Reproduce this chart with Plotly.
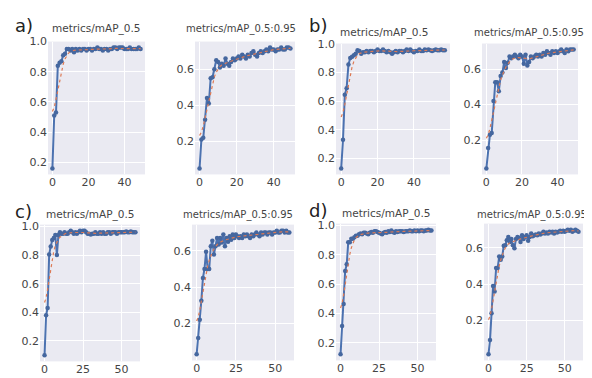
import numpy as np
import plotly.graph_objects as go

# ---------------- data ----------------
a_map50 = [0.16, 0.51, 0.53, 0.84, 0.86, 0.87, 0.91, 0.92, 0.95, 0.95,
           0.94, 0.95, 0.93, 0.95, 0.94, 0.95, 0.94, 0.95, 0.95, 0.94,
           0.95, 0.95, 0.94, 0.95, 0.95, 0.96, 0.95, 0.95, 0.94, 0.95,
           0.95, 0.94, 0.95, 0.95, 0.96, 0.96, 0.95, 0.96, 0.96, 0.96,
           0.95, 0.95, 0.95, 0.96, 0.95, 0.95, 0.95, 0.95, 0.96, 0.95]
a_map = [0.05, 0.21, 0.22, 0.32, 0.44, 0.41, 0.55, 0.555, 0.60, 0.65,
         0.64, 0.61, 0.63, 0.62, 0.66, 0.63, 0.62, 0.64, 0.66, 0.65,
         0.66, 0.67, 0.66, 0.68, 0.67, 0.66, 0.68, 0.67, 0.69, 0.70,
         0.68, 0.67, 0.69, 0.70, 0.69, 0.70, 0.71, 0.70, 0.72, 0.71,
         0.71, 0.70, 0.71, 0.71, 0.72, 0.71, 0.71, 0.72, 0.72, 0.715]
b_map50 = [0.13, 0.33, 0.645, 0.69, 0.855, 0.90, 0.91, 0.92, 0.93, 0.955,
           0.95, 0.93, 0.94, 0.94, 0.95, 0.94, 0.95, 0.95, 0.94, 0.95,
           0.96, 0.95, 0.95, 0.96, 0.95, 0.94, 0.95, 0.94, 0.93, 0.94,
           0.95, 0.94, 0.95, 0.95, 0.94, 0.95, 0.96, 0.95, 0.96, 0.95,
           0.94, 0.95, 0.95, 0.96, 0.95, 0.95, 0.96, 0.955, 0.96, 0.955,
           0.95, 0.955, 0.96, 0.955, 0.955, 0.96, 0.955, 0.955]
b_map = [0.04, 0.155, 0.23, 0.24, 0.42, 0.525, 0.525, 0.475, 0.56, 0.58,
         0.64, 0.605, 0.635, 0.67, 0.66, 0.67, 0.68, 0.67, 0.66, 0.68,
         0.67, 0.63, 0.68, 0.62, 0.64, 0.67, 0.66, 0.67, 0.68, 0.67,
         0.68, 0.67, 0.69, 0.68, 0.70, 0.69, 0.68, 0.70, 0.69, 0.70,
         0.69, 0.70, 0.71, 0.70, 0.69, 0.71, 0.70, 0.71, 0.71, 0.71]
c_map50 = [0.10, 0.38, 0.43, 0.805, 0.86, 0.905, 0.92, 0.94, 0.80, 0.94,
           0.96, 0.95, 0.95, 0.96, 0.95, 0.95, 0.96, 0.97, 0.96, 0.95,
           0.96, 0.95, 0.96, 0.97, 0.96, 0.97, 0.97, 0.96, 0.95, 0.95,
           0.945, 0.95, 0.95, 0.96, 0.95, 0.95, 0.96, 0.95, 0.96, 0.95,
           0.95, 0.96, 0.96, 0.95, 0.96, 0.96, 0.96, 0.95, 0.96, 0.96,
           0.96, 0.96, 0.96, 0.965, 0.96, 0.96, 0.965, 0.96, 0.96, 0.96]
c_map = [0.03, 0.12, 0.22, 0.325, 0.45, 0.50, 0.595, 0.50, 0.50, 0.625,
         0.655, 0.58, 0.625, 0.67, 0.635, 0.67, 0.645, 0.69, 0.625, 0.67,
         0.65, 0.68, 0.66, 0.69, 0.67, 0.69, 0.68, 0.67, 0.68, 0.67,
         0.69, 0.68, 0.69, 0.68, 0.67, 0.69, 0.68, 0.69, 0.70, 0.69,
         0.68, 0.70, 0.69, 0.70, 0.70, 0.69, 0.70, 0.70, 0.69, 0.70,
         0.70, 0.71, 0.70, 0.70, 0.71, 0.71, 0.70, 0.71, 0.70, 0.70]
d_map50 = [0.123, 0.315, 0.465, 0.69, 0.735, 0.885, 0.885, 0.91, 0.91, 0.92,
           0.93, 0.93, 0.94, 0.945, 0.94, 0.95, 0.95, 0.945, 0.94, 0.95,
           0.955, 0.95, 0.96, 0.96, 0.955, 0.95, 0.945, 0.94, 0.95, 0.955,
           0.95, 0.96, 0.955, 0.965, 0.955, 0.95, 0.96, 0.955, 0.96, 0.96,
           0.96, 0.955, 0.96, 0.96, 0.96, 0.965, 0.96, 0.96, 0.965, 0.96,
           0.965, 0.96, 0.965, 0.965, 0.96, 0.965, 0.965, 0.97, 0.965, 0.965]
d_map = [0.015, 0.093, 0.24, 0.39, 0.36, 0.49, 0.49, 0.553, 0.535, 0.553,
         0.612, 0.615, 0.643, 0.66, 0.633, 0.65, 0.615, 0.598, 0.65, 0.66,
         0.655, 0.633, 0.67, 0.65, 0.66, 0.67, 0.64, 0.66, 0.68, 0.665,
         0.67, 0.675, 0.67, 0.68, 0.675, 0.68, 0.69, 0.68, 0.685, 0.68,
         0.69, 0.685, 0.69, 0.68, 0.69, 0.685, 0.69, 0.695, 0.69, 0.695,
         0.69, 0.695, 0.70, 0.695, 0.70, 0.69, 0.695, 0.70, 0.695, 0.69]

title_50 = "metrics/mAP_0.5"
title_5095 = "metrics/mAP_0.5:0.95"
panel_labels = ["a)", "b)", "c)", "d)"]
xticks_ab = [0, 20, 40]
xticks_cd = [0, 25, 50]
yticks_50 = [0.2, 0.4, 0.6, 0.8, 1.0]
yticks_5095 = [0.2, 0.4, 0.6]

# ---------------- layout geometry (pixels) ----------------
W, H = 592, 378
BLUE = "#4C72B0"
ORANGE = "#DD7A55"
BG = "#EAEAF2"
TXT = "#444444"


def smooth(y, sigma=3.0):
    y = np.asarray(y, dtype=float)
    r = int(4 * sigma + 0.5)
    k = np.exp(-0.5 * (np.arange(-r, r + 1) / sigma) ** 2)
    k /= k.sum()
    yp = np.pad(y, r, mode="symmetric")
    return np.convolve(yp, k, mode="valid")


panels = [
    # data, title, xticks, yticks, (x0, x1, ytop, ybot), (title cx, title cy, size)
    (a_map50, title_50, xticks_ab, yticks_50, (40, 137, 28, 163), (88, 15, 10.5)),
    (a_map, title_5095, xticks_ab, yticks_5095, (187, 287, 28, 163), (233, 15, 10)),
    (b_map50, title_50, xticks_ab, yticks_50, (328, 442, 30, 163), (376, 19, 10.5)),
    (b_map, title_5095, xticks_ab, yticks_5095, (474, 570, 30, 163), (521, 19, 10)),
    (c_map50, title_50, xticks_cd, yticks_50, (32, 132, 214, 353), (82, 204, 10.5)),
    (c_map, title_5095, xticks_cd, yticks_5095, (184, 286, 214, 352), (230, 204, 10)),
    (d_map50, title_50, xticks_cd, yticks_50, (328, 428, 213, 352), (378, 203, 10.5)),
    (d_map, title_5095, xticks_cd, yticks_5095, (476, 575, 213, 352), (524, 204, 10)),
]

fig = go.Figure()
layout = dict(
    width=W, height=H,
    margin=dict(l=0, r=0, t=0, b=0),
    paper_bgcolor="white",
    plot_bgcolor=BG,
    showlegend=False,
    font=dict(family="DejaVu Sans", size=10, color=TXT),
    annotations=[],
)

for i, (vals, title, xt, yt, (x0, x1, yt_px, yb_px), (tcx, tcy, tsz)) in enumerate(panels):
    n = i + 1
    xs = list(range(len(vals)))
    xa = "x" if n == 1 else f"x{n}"
    ya = "y" if n == 1 else f"y{n}"
    fig.add_trace(go.Scatter(
        x=xs, y=vals, xaxis=xa, yaxis=ya, mode="lines+markers",
        line=dict(color=BLUE, width=2),
        marker=dict(color="#45679f", size=4.5),
    ))
    fig.add_trace(go.Scatter(
        x=xs, y=smooth(vals), xaxis=xa, yaxis=ya, mode="lines",
        line=dict(color=ORANGE, width=1.2, dash="dot"),
    ))
    N = len(vals) - 1
    lo, hi = min(vals), max(vals)
    pad = 0.05 * (hi - lo)
    dx = [x0 / W, x1 / W]
    dy = [(H - yb_px) / H, (H - yt_px) / H]
    layout[f"xaxis{'' if n == 1 else n}"] = dict(
        domain=dx, anchor=ya, range=[-0.05 * N, 1.05 * N],
        tickvals=xt, showgrid=True, gridcolor="white", gridwidth=1,
        zeroline=False, showline=False, ticks="",
        tickfont=dict(size=11, color=TXT),
    )
    layout[f"yaxis{'' if n == 1 else n}"] = dict(
        domain=dy, anchor=xa, range=[lo - pad, hi + pad + 1e-6],
        tickvals=yt, tickformat=".1f", showgrid=True, gridcolor="white",
        gridwidth=1, zeroline=False, showline=False, ticks="",
        tickfont=dict(size=11, color=TXT),
    )
    layout["annotations"].append(dict(
        text=title, xref="paper", yref="paper",
        x=tcx / W, y=(H - tcy) / H,
        xanchor="center", yanchor="middle", showarrow=False,
        font=dict(size=tsz, color=TXT),
    ))

label_pos = [(5, 12), (299, 12), (5, 201), (299, 200)]
for lab, (lx, ly) in zip(panel_labels, label_pos):
    layout["annotations"].append(dict(
        text=lab, xref="paper", yref="paper",
        x=lx / W, y=(H - ly) / H, xanchor="left", yanchor="middle",
        showarrow=False, font=dict(family="DejaVu Sans", size=18, color="#222"),
    ))

fig.update_layout(**layout)
fig.write_html("out.html")
